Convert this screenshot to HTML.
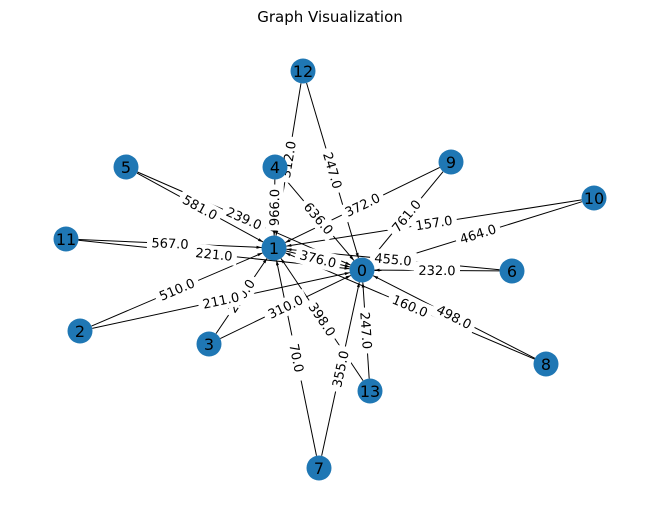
<!DOCTYPE html>
<html><head><meta charset="utf-8"><style>
body{margin:0;background:#fff;}
svg{display:block;font-family:"DejaVu Sans","Liberation Sans",sans-serif;}
</style></head><body>
<svg id="chart" width="660" height="520" viewBox="0 0 660 520">
<text x="330" y="22" text-anchor="middle" font-size="15">Graph Visualization</text>
<g id="edges"></g>
<g id="labels"></g>
<g id="nodes"></g>
</svg>
<script>
const nodeIds = [0,1,2,3,4,5,6,7,8,9,10,11,12,13];
const nodeX = [362,274,80,209,275,126,512,319,546,451,594,66,303,370];
const nodeY = [270,248,331,344,167,167,271,468,364,162,198,239,71,391];
const edgeSrc = [12,12,4,4,9,9,10,10,5,5,11,11,2,3,2,3,1,6,6,8,8,7,7,13,13];
const edgeDst = [1,0,1,0,1,0,1,0,1,0,1,0,1,1,0,0,0,0,1,0,1,1,0,0,1];
const edgeW = ["312.0","247.0","966.0","636.0","372.0","761.0","157.0","464.0","581.0","239.0","567.0","221.0","510.0","250.0","211.0","310.0","376.0","232.0","455.0","498.0","160.0","70.0","355.0","247.0","398.0"];
const NS="http://www.w3.org/2000/svg";
const R=12.5;
const eg=document.getElementById('edges'), lg=document.getElementById('labels'), ng=document.getElementById('nodes');
for(let i=0;i<edgeSrc.length;i++){
  const s=edgeSrc[i], d=edgeDst[i];
  const x1=nodeX[s],y1=nodeY[s],x2=nodeX[d],y2=nodeY[d];
  const dx=x2-x1,dy=y2-y1,L=Math.hypot(dx,dy),ux=dx/L,uy=dy/L;
  const ex=x2-ux*R, ey=y2-uy*R;
  const ln=document.createElementNS(NS,'line');
  
  
  ln.setAttribute('x1',x1+ux*R);ln.setAttribute('y1',y1+uy*R);
  ln.setAttribute('x2',ex);ln.setAttribute('y2',ey);
  ln.setAttribute('stroke','#000');ln.setAttribute('stroke-width','1');
  eg.appendChild(ln);
  const a=document.createElementNS(NS,'polygon');
  
  
  const bx=ex-ux*5, by=ey-uy*5, px=-uy*1.5, py=ux*1.5;
  a.setAttribute('points',ex+','+ey+' '+(bx+px)+','+(by+py)+' '+(bx-px)+','+(by-py));
  a.setAttribute('fill','#000');
  eg.appendChild(a);
  const mx=(x1+x2)/2,my=(y1+y2)/2;
  let ang=Math.atan2(dy,dx)*180/Math.PI;
  if(ang>90)ang-=180; if(ang<=-90)ang+=180;
  const g=document.createElementNS(NS,'g');
  
  
  g.setAttribute('transform','translate('+mx+','+my+') rotate('+ang+')');
  const rc=document.createElementNS(NS,'rect');
  rc.setAttribute('x',-23);rc.setAttribute('y',-9);rc.setAttribute('width',46);rc.setAttribute('height',18);rc.setAttribute('fill','#fff');
  g.appendChild(rc);
  const t=document.createElementNS(NS,'text');
  t.setAttribute('text-anchor','middle');t.setAttribute('y',4.5);t.setAttribute('font-size','13');
  t.textContent=edgeW[i];
  g.appendChild(t);
  lg.appendChild(g);
}
for(let i=0;i<nodeIds.length;i++){
  const c=document.createElementNS(NS,'circle');
  
  
  c.setAttribute('cx',nodeX[i]);c.setAttribute('cy',nodeY[i]);c.setAttribute('r',R);c.setAttribute('fill','#1f77b4');
  ng.appendChild(c);
  const t=document.createElementNS(NS,'text');
  
  
  t.setAttribute('x',nodeX[i]);t.setAttribute('y',nodeY[i]+6);t.setAttribute('text-anchor','middle');t.setAttribute('font-size','16');
  t.textContent=nodeIds[i];
  ng.appendChild(t);
}
</script>
</body></html>
